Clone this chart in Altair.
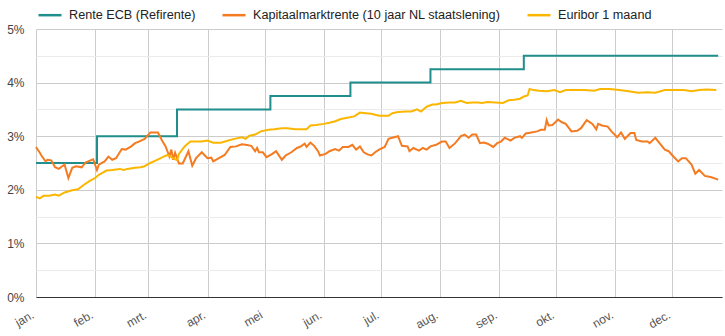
import json
import altair as alt
import pandas as pd

series_names = ["Rente ECB (Refirente)", "Kapitaalmarktrente (10 jaar NL staatslening)", "Euribor 1 maand"]
series_colors = ["#1f8e8c", "#f47b20", "#fbb600"]
month_labels = ["jan.", "feb.", "mrt.", "apr.", "mei", "jun.", "jul.", "aug.", "sep.", "okt.", "nov.", "dec."]
y_ticks = [0, 0.5, 1, 1.5, 2, 2.5, 3, 3.5, 4, 4.5, 5]

# day offsets from 1 Jan 2023
ecb_days = [0, 32, 74, 123, 165, 207, 256, 358]
ecb_vals = [2.50, 3.00, 3.50, 3.75, 4.00, 4.25, 4.50, 4.50]

kap_days = [0, 2, 3, 5, 6, 8, 10, 12, 13, 15, 17, 19, 21, 24, 26, 28, 30, 32, 33, 36, 38, 40, 42, 45, 47, 50,
            52, 54, 57, 60, 62, 64, 66, 68, 70, 71, 72, 73, 75, 77, 80, 82, 84, 87, 90, 92, 93, 96, 99, 102,
            105, 108, 110, 113, 115, 116, 117, 119, 121, 124, 126, 129, 131, 134, 137, 139, 141, 142, 144, 146,
            148, 149, 152, 154, 157, 159, 161, 164, 166, 168, 170, 172, 174, 176, 178, 180, 183, 185, 187, 190,
            192, 195, 196, 198, 201, 203, 205, 207, 210, 213, 215, 217, 220, 223, 225, 227, 229, 231, 233, 235,
            237, 240, 242, 244, 246, 249, 251, 254, 255, 257, 260, 263, 265, 267, 268, 269, 271, 274, 276, 278,
            281, 284, 286, 289, 292, 294, 295, 297, 300, 302, 305, 307, 309, 312, 314, 315, 318, 321, 322, 325,
            327, 330, 332, 334, 337, 339, 341, 344, 346, 348, 351, 354, 358]
kap_vals = [2.80, 2.69, 2.63, 2.53, 2.56, 2.55, 2.42, 2.39, 2.42, 2.47, 2.22, 2.41, 2.44, 2.42, 2.51, 2.54, 2.57,
            2.37, 2.47, 2.53, 2.62, 2.56, 2.59, 2.76, 2.75, 2.81, 2.87, 2.90, 2.95, 3.07, 3.07, 3.07, 2.93, 2.81,
            2.62, 2.75, 2.56, 2.69, 2.49, 2.49, 2.72, 2.45, 2.59, 2.70, 2.59, 2.60, 2.53, 2.59, 2.65, 2.80, 2.81,
            2.85, 2.84, 2.82, 2.72, 2.78, 2.70, 2.70, 2.61, 2.67, 2.72, 2.56, 2.64, 2.70, 2.78, 2.81, 2.86, 2.80,
            2.88, 2.82, 2.72, 2.64, 2.67, 2.72, 2.76, 2.73, 2.80, 2.80, 2.84, 2.75, 2.81, 2.70, 2.66, 2.64, 2.70,
            2.75, 2.80, 2.95, 2.97, 3.00, 2.82, 2.81, 2.72, 2.78, 2.73, 2.78, 2.75, 2.81, 2.84, 2.90, 2.90, 2.78,
            2.87, 3.00, 3.03, 2.97, 3.03, 3.03, 2.87, 2.88, 2.86, 2.80, 2.87, 2.90, 2.97, 2.92, 2.97, 3.00, 2.97,
            3.05, 3.07, 3.09, 3.12, 3.12, 3.30, 3.20, 3.21, 3.31, 3.26, 3.23, 3.09, 3.10, 3.15, 3.30, 3.23, 3.13,
            3.23, 3.20, 3.18, 3.09, 2.98, 3.07, 2.95, 3.06, 3.06, 2.93, 2.90, 2.90, 2.87, 2.97, 2.88, 2.75, 2.72,
            2.64, 2.53, 2.59, 2.59, 2.47, 2.30, 2.37, 2.26, 2.24, 2.19]

eur_days = [0, 2, 4, 7, 10, 12, 15, 19, 22, 25, 28, 31, 33, 37, 40, 44, 46, 48, 52, 55, 57, 60, 63, 67, 69, 72,
            74, 75, 78, 81, 83, 87, 90, 93, 97, 101, 104, 108, 110, 112, 115, 118, 122, 125, 129, 132, 136, 139,
            142, 144, 147, 151, 154, 157, 160, 164, 167, 170, 173, 176, 180, 185, 187, 190, 194, 197, 200, 202,
            205, 208, 210, 213, 217, 220, 223, 226, 229, 232, 234, 237, 241, 245, 248, 251, 254, 256, 258, 259,
            261, 264, 268, 272, 275, 278, 283, 288, 293, 296, 301, 306, 311, 316, 321, 325, 330, 335, 340, 344,
            348, 352, 357]
eur_vals = [1.87, 1.84, 1.89, 1.89, 1.91, 1.89, 1.95, 1.99, 2.01, 2.09, 2.16, 2.22, 2.28, 2.36, 2.37, 2.39, 2.37,
            2.39, 2.41, 2.42, 2.44, 2.50, 2.55, 2.62, 2.65, 2.59, 2.55, 2.67, 2.81, 2.90, 2.90, 2.90, 2.92, 2.88,
            2.88, 2.92, 2.95, 2.98, 2.95, 3.01, 3.03, 3.09, 3.12, 3.13, 3.15, 3.15, 3.13, 3.13, 3.13, 3.20, 3.21,
            3.23, 3.25, 3.28, 3.32, 3.35, 3.37, 3.44, 3.43, 3.42, 3.38, 3.38, 3.43, 3.45, 3.46, 3.46, 3.50, 3.46,
            3.55, 3.59, 3.59, 3.62, 3.63, 3.63, 3.66, 3.62, 3.63, 3.63, 3.62, 3.64, 3.63, 3.62, 3.67, 3.68, 3.70,
            3.74, 3.76, 3.88, 3.86, 3.85, 3.84, 3.86, 3.82, 3.86, 3.86, 3.86, 3.85, 3.88, 3.88, 3.86, 3.84, 3.81,
            3.82, 3.81, 3.86, 3.86, 3.86, 3.84, 3.86, 3.87, 3.86]

start = pd.Timestamp("2023-01-01")


def frame(days, vals, name):
    return pd.DataFrame({
        "date": [(start + pd.Timedelta(days=d)).strftime("%Y-%m-%d") for d in days],
        "value": vals,
        "series": name,
    })


ecb_df = frame(ecb_days, ecb_vals, series_names[0])
other_df = pd.concat([frame(kap_days, kap_vals, series_names[1]),
                      frame(eur_days, eur_vals, series_names[2])], ignore_index=True)

FONT = "Liberation Sans"

x_enc = alt.X(
    "date:T",
    scale=alt.Scale(type="utc", domain=["2023-01-01", "2023-12-27"]),
    axis=alt.Axis(
        values=[alt.DateTime(year=2023, month=m, date=1, utc=True) for m in range(1, 13)],
        labelExpr=json.dumps(month_labels) + "[utcmonth(datum.value)]",
        labelAngle=-30, labelAlign="right", labelBaseline="top", labelPadding=12,
        labelOffset=-6,
        labelFont=FONT, labelFontSize=12, labelColor="#555",
        ticks=False, domainColor="#333", domainWidth=1,
        gridColor="#cccccc", gridWidth=1, title=None, labelOverlap=False,
    ),
)
y_enc = alt.Y(
    "value:Q",
    scale=alt.Scale(domain=[0, 5], nice=False),
    axis=alt.Axis(
        values=y_ticks,
        labelExpr="datum.value % 1 === 0 ? datum.value + '%' : ''",
        ticks=False, domain=False, labelPadding=12,
        labelFont=FONT, labelFontSize=12, labelColor="#444",
        gridColor={"condition": {"test": "datum.value % 1 === 0", "value": "#cccccc"}, "value": "#ebebeb"},
        title=None,
    ),
)
color_enc = alt.Color(
    "series:N",
    scale=alt.Scale(domain=series_names, range=series_colors),
    legend=alt.Legend(
        title=None, orient="none", legendX=1, legendY=-27, direction="horizontal",
        symbolType="stroke", symbolSize=529, symbolStrokeWidth=2.5,
        labelFont=FONT, labelFontSize=12.65, labelColor="#222", labelLimit=0,
        columnPadding=21, labelOffset=6, padding=0,
    ),
)

ecb_layer = alt.Chart(ecb_df).mark_line(interpolate="step-after", strokeWidth=2).encode(
    x=x_enc, y=y_enc, color=color_enc)
other_layer = alt.Chart(other_df).mark_line(strokeWidth=2).encode(
    x=x_enc, y=y_enc, color=color_enc)

chart = alt.layer(ecb_layer, other_layer).properties(
    width=686, height=268,
    autosize=alt.AutoSizeParams(type="none"),
    padding={"left": 36, "top": 29, "right": 3, "bottom": 39},
    background="white",
).configure_view(stroke=None)

chart.save("out.html", embed_options={"renderer": "svg", "actions": False})
